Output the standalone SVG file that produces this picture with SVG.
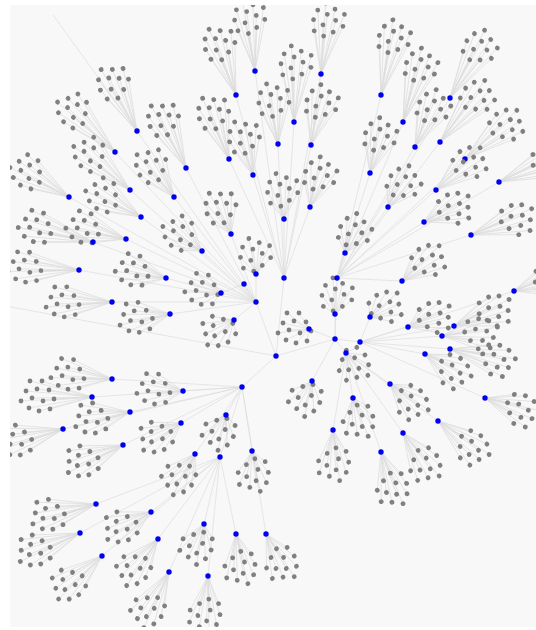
<svg xmlns="http://www.w3.org/2000/svg" xmlns:xlink="http://www.w3.org/1999/xlink" width="536" height="630" viewBox="0 0 536 630">
<style>
.e{stroke:#dcdcdc;stroke-width:.7;fill:none}
.l{fill:#808080}
.h{fill:#0000f0}
</style>
<defs>
<clipPath id="clip"><rect x="10" y="5" width="526" height="622"/></clipPath>
<g id="P" class="l"><circle cx="-13" cy="-12" r="2.4"/><circle cx="-2" cy="-14" r="2.4"/><circle cx="8" cy="-11" r="2.4"/><circle cx="-17" cy="-2" r="2.4"/><circle cx="-6" cy="-4" r="2.4"/><circle cx="5" cy="-1" r="2.4"/><circle cx="16" cy="-4" r="2.4"/><circle cx="-12" cy="7" r="2.4"/><circle cx="0" cy="8" r="2.4"/><circle cx="11" cy="6" r="2.4"/><circle cx="-5" cy="16" r="2.4"/><circle cx="7" cy="16" r="2.4"/></g>
<path id="L15" d="M0 0L2 -12M0 0L13 -14M0 0L23 -11M0 0L-2 -2M0 0L9 -4M0 0L20 -1M0 0L31 -4M0 0L3 7M0 0L15 8M0 0L26 6M0 0L10 16M0 0L22 16"/>
<path id="L20" d="M0 0L7 -12M0 0L18 -14M0 0L28 -11M0 0L3 -2M0 0L14 -4M0 0L25 -1M0 0L36 -4M0 0L8 7M0 0L20 8M0 0L31 6M0 0L15 16M0 0L27 16"/>
<path id="L25" d="M0 0L12 -12M0 0L23 -14M0 0L33 -11M0 0L8 -2M0 0L19 -4M0 0L30 -1M0 0L41 -4M0 0L13 7M0 0L25 8M0 0L36 6M0 0L20 16M0 0L32 16"/>
<path id="L30" d="M0 0L17 -12M0 0L28 -14M0 0L38 -11M0 0L13 -2M0 0L24 -4M0 0L35 -1M0 0L46 -4M0 0L18 7M0 0L30 8M0 0L41 6M0 0L25 16M0 0L37 16"/>
<path id="L35" d="M0 0L22 -12M0 0L33 -14M0 0L43 -11M0 0L18 -2M0 0L29 -4M0 0L40 -1M0 0L51 -4M0 0L23 7M0 0L35 8M0 0L46 6M0 0L30 16M0 0L42 16"/>
<path id="L40" d="M0 0L27 -12M0 0L38 -14M0 0L48 -11M0 0L23 -2M0 0L34 -4M0 0L45 -1M0 0L56 -4M0 0L28 7M0 0L40 8M0 0L51 6M0 0L35 16M0 0L47 16"/>
<path id="L45" d="M0 0L32 -12M0 0L43 -14M0 0L53 -11M0 0L28 -2M0 0L39 -4M0 0L50 -1M0 0L61 -4M0 0L33 7M0 0L45 8M0 0L56 6M0 0L40 16M0 0L52 16"/>
<path id="L50" d="M0 0L37 -12M0 0L48 -14M0 0L58 -11M0 0L33 -2M0 0L44 -4M0 0L55 -1M0 0L66 -4M0 0L38 7M0 0L50 8M0 0L61 6M0 0L45 16M0 0L57 16"/>
<path id="L55" d="M0 0L42 -12M0 0L53 -14M0 0L63 -11M0 0L38 -2M0 0L49 -4M0 0L60 -1M0 0L71 -4M0 0L43 7M0 0L55 8M0 0L66 6M0 0L50 16M0 0L62 16"/>
<path id="L60" d="M0 0L47 -12M0 0L58 -14M0 0L68 -11M0 0L43 -2M0 0L54 -4M0 0L65 -1M0 0L76 -4M0 0L48 7M0 0L60 8M0 0L71 6M0 0L55 16M0 0L67 16"/>
</defs>
<rect width="536" height="630" fill="#ffffff"/>
<rect x="10" y="5" width="526" height="622" fill="#f8f8f8"/>
<g clip-path="url(#clip)">
<g id="connectors" class="e">
<path d="M276 356L256 302M276 356L242 387M276 356L335 339M276 356L284 278M276 356L0 305M53 15L137 131
M256 302L137 131M256 302L115 152M256 302L186 168M256 302L69 197M256 302L130 190M256 302L174 197M256 302L141 217M256 302L126 239M256 302L93 242M256 302L202 251M256 302L231 234M256 302L79 270M256 302L166 278M256 302L112 302M256 302L170 314M256 302L234 320M256 302L244 284M256 302L256 274M244 284L221 293
M284 278L255 71M284 278L236 95M284 278L229 159M284 278L253 175M284 278L321 74M284 278L294 122M284 278L278 144M284 278L311 145M284 278L310 207M284 278L284 219
M335 339L337 278M335 339L360 342M335 339L335 314M335 339L309 329M335 339L346 353M335 339L312 381
M337 278L381 95M337 278L403 122M337 278L450 98M337 278L415 147M337 278L440 142M337 278L370 173M337 278L465 159M337 278L436 190M337 278L499 182M337 278L388 207M337 278L424 222M337 278L471 235M337 278L345 253M337 278L402 281
M360 342L514 291M360 342L370 317M360 342L408 327M360 342L454 326M360 342L442 336M360 342L450 349M360 342L425 354M360 342L485 398
M346 353L353 398M346 353L390 384M346 353L333 430M346 353L403 433M346 353L438 421M346 353L381 452
M242 387L112 379M242 387L183 391M242 387L92 397M242 387L266 534M242 387L130 412M242 387L63 429M242 387L181 423M242 387L226 415M242 387L123 445M242 387L195 454M242 387L252 451M242 387L220 457
M220 457L96 504M220 457L151 512M220 457L80 533M220 457L204 524M220 457L158 539M220 457L102 556M220 457L236 534M220 457L169 572M220 457L208 576"/>
<use href="#L55" transform="translate(255 71) rotate(-97)"/>
<use href="#L55" transform="translate(236 95) rotate(-109)"/>
<use href="#L55" transform="translate(137 131) rotate(-117)"/>
<use href="#L60" transform="translate(115 152) rotate(-136)"/>
<use href="#L55" transform="translate(186 168) rotate(-116)"/>
<use href="#L50" transform="translate(229 159) rotate(-110)"/>
<use href="#L40" transform="translate(253 175) rotate(-105)"/>
<use href="#L50" transform="translate(69 197) rotate(-150)"/>
<use href="#L55" transform="translate(130 190) rotate(-139)"/>
<use href="#L40" transform="translate(174 197) rotate(-127)"/>
<use href="#L55" transform="translate(321 74) rotate(-83)"/>
<use href="#L60" transform="translate(294 122) rotate(-89)"/>
<use href="#L45" transform="translate(278 144) rotate(-97)"/>
<use href="#L45" transform="translate(311 145) rotate(-77)"/>
<use href="#L60" transform="translate(381 95) rotate(-78)"/>
<use href="#L60" transform="translate(403 122) rotate(-73)"/>
<use href="#L60" transform="translate(450 98) rotate(-60)"/>
<use href="#L45" transform="translate(415 147) rotate(-66)"/>
<use href="#L60" transform="translate(440 142) rotate(-51)"/>
<use href="#L40" transform="translate(370 173) rotate(-76)"/>
<use href="#L55" transform="translate(465 159) rotate(-40)"/>
<use href="#L45" transform="translate(436 190) rotate(-40)"/>
<use href="#L55" transform="translate(499 182) rotate(-23)"/>
<use href="#L30" transform="translate(388 207) rotate(-58)"/>
<use href="#L35" transform="translate(310 207) rotate(-74)"/>
<use href="#L30" transform="translate(284 219) rotate(-95)"/>
<use href="#L45" transform="translate(141 217) rotate(-151)"/>
<use href="#L45" transform="translate(126 239) rotate(-166)"/>
<use href="#L60" transform="translate(93 242) rotate(-166)"/>
<use href="#L30" transform="translate(202 251) rotate(-143)"/>
<use href="#L30" transform="translate(231 234) rotate(-113)"/>
<use href="#L55" transform="translate(79 270) rotate(-178)"/>
<use href="#L35" transform="translate(166 278) rotate(-168)"/>
<use href="#L20" transform="translate(256 274) rotate(-95)"/>
<use href="#L20" transform="translate(221 293) rotate(-172)"/>
<use href="#L50" transform="translate(112 302) rotate(179)"/>
<use href="#L35" transform="translate(170 314) rotate(172)"/>
<use href="#L20" transform="translate(234 320) rotate(143)"/>
<use href="#L45" transform="translate(112 379) rotate(-175)"/>
<use href="#L30" transform="translate(183 391) rotate(-178)"/>
<use href="#L55" transform="translate(92 397) rotate(180)"/>
<use href="#L35" transform="translate(424 222) rotate(-26)"/>
<use href="#L50" transform="translate(471 235) rotate(-20)"/>
<use href="#L25" transform="translate(345 253) rotate(-68)"/>
<use href="#L35" transform="translate(402 281) rotate(-39)"/>
<use href="#L40" transform="translate(514 291) rotate(-18)"/>
<use href="#L20" transform="translate(335 314) rotate(-87)"/>
<use href="#L20" transform="translate(370 317) rotate(-35)"/>
<use href="#L15" transform="translate(309 329) rotate(180)"/>
<use href="#L30" transform="translate(408 327) rotate(-22)"/>
<use href="#L45" transform="translate(454 326) rotate(-22)"/>
<use href="#L40" transform="translate(442 336) rotate(-5)"/>
<use href="#L50" transform="translate(450 349) rotate(12)"/>
<use href="#L35" transform="translate(425 354) rotate(30)"/>
<use href="#L15" transform="translate(346 353) rotate(53)"/>
<use href="#L20" transform="translate(312 381) rotate(108)"/>
<use href="#L25" transform="translate(353 398) rotate(74)"/>
<use href="#L30" transform="translate(390 384) rotate(39)"/>
<use href="#L40" transform="translate(485 398) rotate(17)"/>
<use href="#L35" transform="translate(333 430) rotate(87)"/>
<use href="#L40" transform="translate(403 433) rotate(54)"/>
<use href="#L45" transform="translate(438 421) rotate(37)"/>
<use href="#L40" transform="translate(381 452) rotate(71)"/>
<use href="#L35" transform="translate(266 534) rotate(61)"/>
<use href="#L40" transform="translate(130 412) rotate(169)"/>
<use href="#L50" transform="translate(63 429) rotate(165)"/>
<use href="#L30" transform="translate(181 423) rotate(149)"/>
<use href="#L20" transform="translate(226 415) rotate(109)"/>
<use href="#L45" transform="translate(123 445) rotate(157)"/>
<use href="#L30" transform="translate(195 454) rotate(123)"/>
<use href="#L25" transform="translate(252 451) rotate(84)"/>
<use href="#L50" transform="translate(96 504) rotate(166)"/>
<use href="#L35" transform="translate(151 512) rotate(152)"/>
<use href="#L50" transform="translate(80 533) rotate(158)"/>
<use href="#L25" transform="translate(204 524) rotate(106)"/>
<use href="#L40" transform="translate(158 539) rotate(128)"/>
<use href="#L45" transform="translate(102 556) rotate(139)"/>
<use href="#L35" transform="translate(236 534) rotate(81)"/>
<use href="#L45" transform="translate(169 572) rotate(118)"/>
<use href="#L40" transform="translate(208 576) rotate(93)"/>
</g>
<g id="nodes">
<g id="n1"><use href="#P" transform="translate(255 71) rotate(-97) translate(55 0)"/><circle class="h" cx="255" cy="71" r="2.7"/></g>
<g id="n2"><use href="#P" transform="translate(236 95) rotate(-109) translate(55 0)"/><circle class="h" cx="236" cy="95" r="2.7"/></g>
<g id="n3"><use href="#P" transform="translate(137 131) rotate(-117) translate(55 0)"/><circle class="h" cx="137" cy="131" r="2.7"/></g>
<g id="n4"><use href="#P" transform="translate(115 152) rotate(-136) translate(60 0)"/><circle class="h" cx="115" cy="152" r="2.7"/></g>
<g id="n5"><use href="#P" transform="translate(186 168) rotate(-116) translate(55 0)"/><circle class="h" cx="186" cy="168" r="2.7"/></g>
<g id="n6"><use href="#P" transform="translate(229 159) rotate(-110) translate(50 0)"/><circle class="h" cx="229" cy="159" r="2.7"/></g>
<g id="n7"><use href="#P" transform="translate(253 175) rotate(-105) translate(40 0)"/><circle class="h" cx="253" cy="175" r="2.7"/></g>
<g id="n8"><use href="#P" transform="translate(69 197) rotate(-150) translate(50 0)"/><circle class="h" cx="69" cy="197" r="2.7"/></g>
<g id="n9"><use href="#P" transform="translate(130 190) rotate(-139) translate(55 0)"/><circle class="h" cx="130" cy="190" r="2.7"/></g>
<g id="n10"><use href="#P" transform="translate(174 197) rotate(-127) translate(40 0)"/><circle class="h" cx="174" cy="197" r="2.7"/></g>
<g id="n11"><use href="#P" transform="translate(321 74) rotate(-83) translate(55 0)"/><circle class="h" cx="321" cy="74" r="2.7"/></g>
<g id="n12"><use href="#P" transform="translate(294 122) rotate(-89) translate(60 0)"/><circle class="h" cx="294" cy="122" r="2.7"/></g>
<g id="n13"><use href="#P" transform="translate(278 144) rotate(-97) translate(45 0)"/><circle class="h" cx="278" cy="144" r="2.7"/></g>
<g id="n14"><use href="#P" transform="translate(311 145) rotate(-77) translate(45 0)"/><circle class="h" cx="311" cy="145" r="2.7"/></g>
<g id="n15"><use href="#P" transform="translate(381 95) rotate(-78) translate(60 0)"/><circle class="h" cx="381" cy="95" r="2.7"/></g>
<g id="n16"><use href="#P" transform="translate(403 122) rotate(-73) translate(60 0)"/><circle class="h" cx="403" cy="122" r="2.7"/></g>
<g id="n17"><use href="#P" transform="translate(450 98) rotate(-60) translate(60 0)"/><circle class="h" cx="450" cy="98" r="2.7"/></g>
<g id="n18"><use href="#P" transform="translate(415 147) rotate(-66) translate(45 0)"/><circle class="h" cx="415" cy="147" r="2.7"/></g>
<g id="n19"><use href="#P" transform="translate(440 142) rotate(-51) translate(60 0)"/><circle class="h" cx="440" cy="142" r="2.7"/></g>
<g id="n20"><use href="#P" transform="translate(370 173) rotate(-76) translate(40 0)"/><circle class="h" cx="370" cy="173" r="2.7"/></g>
<g id="n21"><use href="#P" transform="translate(465 159) rotate(-40) translate(55 0)"/><circle class="h" cx="465" cy="159" r="2.7"/></g>
<g id="n22"><use href="#P" transform="translate(436 190) rotate(-40) translate(45 0)"/><circle class="h" cx="436" cy="190" r="2.7"/></g>
<g id="n23"><use href="#P" transform="translate(499 182) rotate(-23) translate(55 0)"/><circle class="h" cx="499" cy="182" r="2.7"/></g>
<g id="n24"><use href="#P" transform="translate(388 207) rotate(-58) translate(30 0)"/><circle class="h" cx="388" cy="207" r="2.7"/></g>
<g id="n25"><use href="#P" transform="translate(310 207) rotate(-74) translate(35 0)"/><circle class="h" cx="310" cy="207" r="2.7"/></g>
<g id="n26"><use href="#P" transform="translate(284 219) rotate(-95) translate(30 0)"/><circle class="h" cx="284" cy="219" r="2.7"/></g>
<g id="n27"><use href="#P" transform="translate(141 217) rotate(-151) translate(45 0)"/><circle class="h" cx="141" cy="217" r="2.7"/></g>
<g id="n28"><use href="#P" transform="translate(126 239) rotate(-166) translate(45 0)"/><circle class="h" cx="126" cy="239" r="2.7"/></g>
<g id="n29"><use href="#P" transform="translate(93 242) rotate(-166) translate(60 0)"/><circle class="h" cx="93" cy="242" r="2.7"/></g>
<g id="n30"><use href="#P" transform="translate(202 251) rotate(-143) translate(30 0)"/><circle class="h" cx="202" cy="251" r="2.7"/></g>
<g id="n31"><use href="#P" transform="translate(231 234) rotate(-113) translate(30 0)"/><circle class="h" cx="231" cy="234" r="2.7"/></g>
<g id="n32"><use href="#P" transform="translate(79 270) rotate(-178) translate(55 0)"/><circle class="h" cx="79" cy="270" r="2.7"/></g>
<g id="n33"><use href="#P" transform="translate(166 278) rotate(-168) translate(35 0)"/><circle class="h" cx="166" cy="278" r="2.7"/></g>
<g id="n34"><use href="#P" transform="translate(256 274) rotate(-95) translate(20 0)"/><circle class="h" cx="256" cy="274" r="2.7"/></g>
<g id="n35"><use href="#P" transform="translate(221 293) rotate(-172) translate(20 0)"/><circle class="h" cx="221" cy="293" r="2.7"/></g>
<g id="n36"><use href="#P" transform="translate(112 302) rotate(179) translate(50 0)"/><circle class="h" cx="112" cy="302" r="2.7"/></g>
<g id="n37"><use href="#P" transform="translate(170 314) rotate(172) translate(35 0)"/><circle class="h" cx="170" cy="314" r="2.7"/></g>
<g id="n38"><use href="#P" transform="translate(234 320) rotate(143) translate(20 0)"/><circle class="h" cx="234" cy="320" r="2.7"/></g>
<g id="n39"><use href="#P" transform="translate(112 379) rotate(-175) translate(45 0)"/><circle class="h" cx="112" cy="379" r="2.7"/></g>
<g id="n40"><use href="#P" transform="translate(183 391) rotate(-178) translate(30 0)"/><circle class="h" cx="183" cy="391" r="2.7"/></g>
<g id="n41"><use href="#P" transform="translate(92 397) rotate(180) translate(55 0)"/><circle class="h" cx="92" cy="397" r="2.7"/></g>
<g id="n42"><use href="#P" transform="translate(424 222) rotate(-26) translate(35 0)"/><circle class="h" cx="424" cy="222" r="2.7"/></g>
<g id="n43"><use href="#P" transform="translate(471 235) rotate(-20) translate(50 0)"/><circle class="h" cx="471" cy="235" r="2.7"/></g>
<g id="n44"><use href="#P" transform="translate(345 253) rotate(-68) translate(25 0)"/><circle class="h" cx="345" cy="253" r="2.7"/></g>
<g id="n45"><use href="#P" transform="translate(402 281) rotate(-39) translate(35 0)"/><circle class="h" cx="402" cy="281" r="2.7"/></g>
<g id="n46"><use href="#P" transform="translate(514 291) rotate(-18) translate(40 0)"/><circle class="h" cx="514" cy="291" r="2.7"/></g>
<g id="n47"><use href="#P" transform="translate(335 314) rotate(-87) translate(20 0)"/><circle class="h" cx="335" cy="314" r="2.7"/></g>
<g id="n48"><use href="#P" transform="translate(370 317) rotate(-35) translate(20 0)"/><circle class="h" cx="370" cy="317" r="2.7"/></g>
<g id="n49"><use href="#P" transform="translate(309 329) rotate(180) translate(15 0)"/><circle class="h" cx="309" cy="329" r="2.7"/></g>
<g id="n50"><use href="#P" transform="translate(408 327) rotate(-22) translate(30 0)"/><circle class="h" cx="408" cy="327" r="2.7"/></g>
<g id="n51"><use href="#P" transform="translate(454 326) rotate(-22) translate(45 0)"/><circle class="h" cx="454" cy="326" r="2.7"/></g>
<g id="n52"><use href="#P" transform="translate(442 336) rotate(-5) translate(40 0)"/><circle class="h" cx="442" cy="336" r="2.7"/></g>
<g id="n53"><use href="#P" transform="translate(450 349) rotate(12) translate(50 0)"/><circle class="h" cx="450" cy="349" r="2.7"/></g>
<g id="n54"><use href="#P" transform="translate(425 354) rotate(30) translate(35 0)"/><circle class="h" cx="425" cy="354" r="2.7"/></g>
<g id="n55"><use href="#P" transform="translate(346 353) rotate(53) translate(15 0)"/><circle class="h" cx="346" cy="353" r="2.7"/></g>
<g id="n56"><use href="#P" transform="translate(312 381) rotate(108) translate(20 0)"/><circle class="h" cx="312" cy="381" r="2.7"/></g>
<g id="n57"><use href="#P" transform="translate(353 398) rotate(74) translate(25 0)"/><circle class="h" cx="353" cy="398" r="2.7"/></g>
<g id="n58"><use href="#P" transform="translate(390 384) rotate(39) translate(30 0)"/><circle class="h" cx="390" cy="384" r="2.7"/></g>
<g id="n59"><use href="#P" transform="translate(485 398) rotate(17) translate(40 0)"/><circle class="h" cx="485" cy="398" r="2.7"/></g>
<g id="n60"><use href="#P" transform="translate(333 430) rotate(87) translate(35 0)"/><circle class="h" cx="333" cy="430" r="2.7"/></g>
<g id="n61"><use href="#P" transform="translate(403 433) rotate(54) translate(40 0)"/><circle class="h" cx="403" cy="433" r="2.7"/></g>
<g id="n62"><use href="#P" transform="translate(438 421) rotate(37) translate(45 0)"/><circle class="h" cx="438" cy="421" r="2.7"/></g>
<g id="n63"><use href="#P" transform="translate(381 452) rotate(71) translate(40 0)"/><circle class="h" cx="381" cy="452" r="2.7"/></g>
<g id="n64"><use href="#P" transform="translate(266 534) rotate(61) translate(35 0)"/><circle class="h" cx="266" cy="534" r="2.7"/></g>
<g id="n65"><use href="#P" transform="translate(130 412) rotate(169) translate(40 0)"/><circle class="h" cx="130" cy="412" r="2.7"/></g>
<g id="n66"><use href="#P" transform="translate(63 429) rotate(165) translate(50 0)"/><circle class="h" cx="63" cy="429" r="2.7"/></g>
<g id="n67"><use href="#P" transform="translate(181 423) rotate(149) translate(30 0)"/><circle class="h" cx="181" cy="423" r="2.7"/></g>
<g id="n68"><use href="#P" transform="translate(226 415) rotate(109) translate(20 0)"/><circle class="h" cx="226" cy="415" r="2.7"/></g>
<g id="n69"><use href="#P" transform="translate(123 445) rotate(157) translate(45 0)"/><circle class="h" cx="123" cy="445" r="2.7"/></g>
<g id="n70"><use href="#P" transform="translate(195 454) rotate(123) translate(30 0)"/><circle class="h" cx="195" cy="454" r="2.7"/></g>
<g id="n71"><use href="#P" transform="translate(252 451) rotate(84) translate(25 0)"/><circle class="h" cx="252" cy="451" r="2.7"/></g>
<g id="n72"><use href="#P" transform="translate(96 504) rotate(166) translate(50 0)"/><circle class="h" cx="96" cy="504" r="2.7"/></g>
<g id="n73"><use href="#P" transform="translate(151 512) rotate(152) translate(35 0)"/><circle class="h" cx="151" cy="512" r="2.7"/></g>
<g id="n74"><use href="#P" transform="translate(80 533) rotate(158) translate(50 0)"/><circle class="h" cx="80" cy="533" r="2.7"/></g>
<g id="n75"><use href="#P" transform="translate(204 524) rotate(106) translate(25 0)"/><circle class="h" cx="204" cy="524" r="2.7"/></g>
<g id="n76"><use href="#P" transform="translate(158 539) rotate(128) translate(40 0)"/><circle class="h" cx="158" cy="539" r="2.7"/></g>
<g id="n77"><use href="#P" transform="translate(102 556) rotate(139) translate(45 0)"/><circle class="h" cx="102" cy="556" r="2.7"/></g>
<g id="n78"><use href="#P" transform="translate(236 534) rotate(81) translate(35 0)"/><circle class="h" cx="236" cy="534" r="2.7"/></g>
<g id="n79"><use href="#P" transform="translate(169 572) rotate(118) translate(45 0)"/><circle class="h" cx="169" cy="572" r="2.7"/></g>
<g id="n80"><use href="#P" transform="translate(208 576) rotate(93) translate(40 0)"/><circle class="h" cx="208" cy="576" r="2.7"/></g>
<g id="root"><circle class="h" cx="276" cy="356" r="2.7"/></g>
<g id="hubA"><circle class="h" cx="256" cy="302" r="2.7"/></g>
<g id="hubB"><circle class="h" cx="242" cy="387" r="2.7"/></g>
<g id="hubC"><circle class="h" cx="335" cy="339" r="2.7"/></g>
<g id="hubD"><circle class="h" cx="284" cy="278" r="2.7"/></g>
<g id="hubE"><circle class="h" cx="337" cy="278" r="2.7"/></g>
<g id="hubF"><circle class="h" cx="360" cy="342" r="2.7"/></g>
<g id="hubG"><circle class="h" cx="220" cy="457" r="2.7"/></g>
<g id="hubH"><circle class="h" cx="244" cy="284" r="2.7"/></g>
</g>
</g>
</svg>
